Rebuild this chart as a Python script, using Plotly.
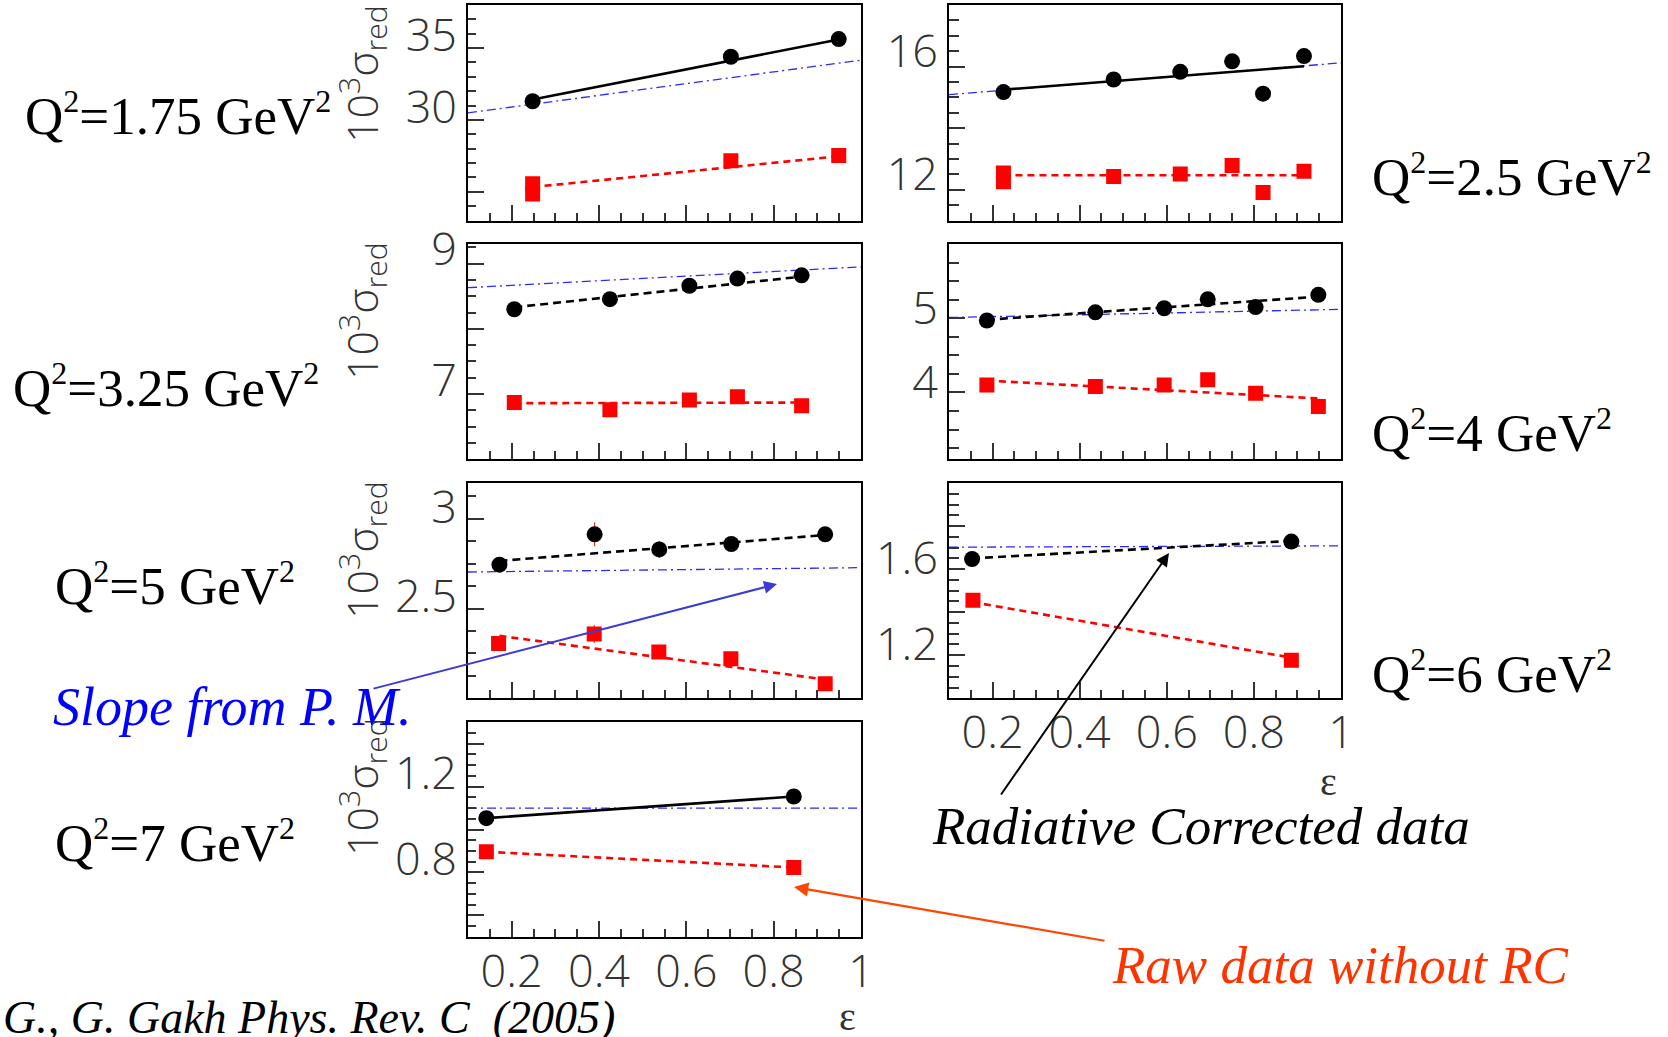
import plotly.graph_objects as go

W, H = 1668, 1037

# ---------------- data ----------------
q2_labels = ["1.75", "2.5", "3.25", "4", "5", "6", "7"]

# Q2 = 1.75
eps_rc_175 = [0.248, 0.702, 0.949]
rc_175 = [31.30, 34.40, 35.63]
eps_raw_175 = [0.248, 0.248, 0.702, 0.949]
raw_175 = [25.56, 24.84, 27.16, 27.53]
fit_eps_175 = [0.248, 0.949]
fit_rc_175 = [31.42, 35.60]
fit_raw_175 = [25.33, 27.47]
pm_175 = [30.49, 34.16]

# Q2 = 2.5
eps_rc_25 = [0.225, 0.478, 0.631, 0.750, 0.821, 0.915]
rc_25 = [15.17, 15.58, 15.83, 16.17, 15.12, 16.34]
eps_raw_25 = [0.225, 0.225, 0.478, 0.631, 0.750, 0.821, 0.915]
raw_25 = [12.54, 12.26, 12.43, 12.51, 12.79, 11.91, 12.60]
fit_eps_25 = [0.225, 0.915]
fit_rc_25 = [15.25, 16.01]
fit_raw_25 = [12.47, 12.47]
pm_25 = [15.09, 16.12]

# Q2 = 3.25
eps_rc_325 = [0.206, 0.425, 0.607, 0.717, 0.864]
rc_325 = [8.30, 8.455, 8.66, 8.77, 8.82]
eps_raw_325 = [0.206, 0.425, 0.607, 0.717, 0.864]
raw_325 = [6.87, 6.76, 6.91, 6.96, 6.82]
fit_eps_325 = [0.206, 0.864]
fit_rc_325 = [8.33, 8.80]
fit_raw_325 = [6.86, 6.87]
pm_325 = [8.63, 8.95]

# Q2 = 4
eps_rc_4 = [0.187, 0.436, 0.594, 0.694, 0.804, 0.948]
rc_4 = [4.97, 5.08, 5.135, 5.255, 5.15, 5.315]
eps_raw_4 = [0.187, 0.436, 0.594, 0.694, 0.804, 0.948]
raw_4 = [4.10, 4.08, 4.10, 4.17, 3.99, 3.81]
fit_eps_4 = [0.187, 0.948]
fit_rc_4 = [4.98, 5.29]
fit_raw_4 = [4.16, 3.92]
pm_4 = [5.01, 5.12]

# Q2 = 5
eps_rc_5 = [0.172, 0.390, 0.538, 0.703, 0.918]
rc_5 = [2.745, 2.914, 2.830, 2.860, 2.914]
rc_err_5 = [0.02, 0.066, 0.047, 0.02, 0.02]
eps_raw_5 = [0.170, 0.389, 0.537, 0.702, 0.918]
raw_5 = [2.305, 2.358, 2.258, 2.221, 2.081]
raw_err_5 = [0.02, 0.05, 0.02, 0.02, 0.02]
fit_eps_5 = [0.172, 0.918]
fit_rc_5 = [2.766, 2.910]
fit_raw_5 = [2.348, 2.105]
pm_5 = [2.704, 2.728]

# Q2 = 6
eps_rc_6 = [0.153, 0.886]
rc_6 = [1.647, 1.728]
eps_raw_6 = [0.155, 0.886]
raw_6 = [1.455, 1.177]
fit_eps_6 = [0.153, 0.886]
fit_rc_6 = [1.650, 1.731]
fit_raw_6 = [1.447, 1.189]
pm_6 = [1.702, 1.708]

# Q2 = 7
eps_rc_7 = [0.142, 0.846]
rc_7 = [1.053, 1.154]
eps_raw_7 = [0.142, 0.846]
raw_7 = [0.896, 0.823]
fit_eps_7 = [0.142, 0.846]
fit_rc_7 = [1.053, 1.154]
fit_raw_7 = [0.896, 0.823]
pm_7 = [1.10, 1.10]

pm_eps = [0.1, 1.0]

# y-axis ranges, major ticks and their labels
yrange = [[23, 38], [11, 18], [6.0, 9.3], [3.1, 6.0], [2.0, 3.2], [1.0, 2.0], [0.5, 1.5]]
ymajor = [[25, 30, 35], [12, 14, 16], [7, 8, 9], [4, 5], [2.5, 3.0],
          [1.2, 1.4, 1.6, 1.8], [0.6, 0.8, 1.0, 1.2, 1.4]]
ytext = [["", "30", "35"], ["12", "", "16"], ["7", "", "9"], ["4", "5"], ["2.5", "3"],
         ["1.2", "", "1.6", ""], ["", "0.8", "", "1.2", ""]]
yminor = [1, 0.5, 0.25, 0.25, 0.125, 0.05, 0.05]
xtickvals = [0.2, 0.4, 0.6, 0.8, 1.0]
xticktext = ["0.2", "0.4", "0.6", "0.8", "1"]

# ---------------- layout geometry ----------------
left_px = (468, 861)
right_px = (949, 1341)
rows_px = [(5, 220.5), (244, 459.3), (483, 698.3), (722.3, 936.7)]
cells = [(0, 0), (1, 0), (0, 1), (1, 1), (0, 2), (1, 2), (0, 3)]
label_shift = [-13, -15, -14, -10, -12, -11, -13]
rc_dash = ["solid", "solid", "8px,5px", "8px,5px", "8px,5px", "8px,5px", "solid"]

panels = [
    (eps_rc_175, rc_175, None, eps_raw_175, raw_175, None, fit_eps_175, fit_rc_175, fit_raw_175, pm_175),
    (eps_rc_25, rc_25, None, eps_raw_25, raw_25, None, fit_eps_25, fit_rc_25, fit_raw_25, pm_25),
    (eps_rc_325, rc_325, None, eps_raw_325, raw_325, None, fit_eps_325, fit_rc_325, fit_raw_325, pm_325),
    (eps_rc_4, rc_4, None, eps_raw_4, raw_4, None, fit_eps_4, fit_rc_4, fit_raw_4, pm_4),
    (eps_rc_5, rc_5, rc_err_5, eps_raw_5, raw_5, raw_err_5, fit_eps_5, fit_rc_5, fit_raw_5, pm_5),
    (eps_rc_6, rc_6, None, eps_raw_6, raw_6, None, fit_eps_6, fit_rc_6, fit_raw_6, pm_6),
    (eps_rc_7, rc_7, None, eps_raw_7, raw_7, None, fit_eps_7, fit_rc_7, fit_raw_7, pm_7),
]

fig = go.Figure()
tickfont = dict(family="Open Sans, Liberation Sans, sans-serif", size=45, color="#333333", weight=300)

for i, (erc, rc, rcerr, eraw, raw, rawerr, feps, frc, fraw, pm) in enumerate(panels):
    n = i + 1
    xa = "x" if n == 1 else f"x{n}"
    ya = "y" if n == 1 else f"y{n}"
    col, row = cells[i]
    xpx = left_px if col == 0 else right_px
    ytop, ybot = rows_px[row]

    # P.M. slope (blue dash-dot)
    fig.add_trace(go.Scatter(x=pm_eps, y=pm, mode="lines", xaxis=xa, yaxis=ya,
                             line=dict(color="#2a2aff", width=1.3, dash="9px,4px,2px,4px"),
                             showlegend=False, hoverinfo="skip"))
    # fit to raw data (red dashed)
    fig.add_trace(go.Scatter(x=feps, y=fraw, mode="lines", xaxis=xa, yaxis=ya,
                             line=dict(color="#ff0000", width=2.6, dash="7px,5px"),
                             showlegend=False, hoverinfo="skip"))
    # fit to RC data (black)
    fig.add_trace(go.Scatter(x=feps, y=frc, mode="lines", xaxis=xa, yaxis=ya,
                             line=dict(color="#000000", width=2.6, dash=rc_dash[i]),
                             showlegend=False, hoverinfo="skip"))
    # raw data (red squares)
    fig.add_trace(go.Scatter(x=eraw, y=raw, mode="markers", xaxis=xa, yaxis=ya,
                             marker=dict(symbol="square", size=15, color="#ff0000"),
                             error_y=(dict(type="data", array=rawerr, color="#ff0000", thickness=1, width=0)
                                      if rawerr else None),
                             showlegend=False, name="Raw data"))
    # radiatively corrected data (black circles)
    fig.add_trace(go.Scatter(x=erc, y=rc, mode="markers", xaxis=xa, yaxis=ya,
                             marker=dict(symbol="circle", size=16, color="#000000"),
                             error_y=(dict(type="data", array=rcerr, color="#ff0000", thickness=1, width=0)
                                      if rcerr else None),
                             showlegend=False, name="RC data"))

    show_x = n in (6, 7)
    xaxis = dict(domain=[xpx[0] / W, xpx[1] / W], range=[0.1, 1.0], anchor=ya, automargin=False,
                 showline=True, mirror=True, linecolor="#000000", linewidth=2,
                 showgrid=False, zeroline=False,
                 tickmode="array", tickvals=xtickvals, ticktext=xticktext,
                 ticks="inside", ticklen=16, tickwidth=1.5, tickcolor="#333333",
                 minor=dict(tickmode="linear", tick0=0, dtick=0.05, ticks="inside",
                            ticklen=8, tickwidth=1.5, tickcolor="#333333"),
                 showticklabels=show_x, tickfont=tickfont, ticklabelstandoff=-6)
    yaxis = dict(domain=[1 - ybot / H, 1 - ytop / H], range=yrange[i], anchor=xa, automargin=False,
                 showline=True, mirror=True, linecolor="#000000", linewidth=2,
                 showgrid=False, zeroline=False,
                 tickmode="array", tickvals=ymajor[i], ticktext=ytext[i],
                 ticks="inside", ticklen=16, tickwidth=1.5, tickcolor="#333333",
                 minor=dict(tickmode="linear", tick0=0, dtick=yminor[i], ticks="inside",
                            ticklen=8 if col == 0 else 10, tickwidth=1.5, tickcolor="#333333"),
                 showticklabels=True, tickfont=tickfont, ticklabelshift=label_shift[i])
    fig.layout["xaxis" if n == 1 else f"xaxis{n}"] = xaxis
    fig.layout["yaxis" if n == 1 else f"yaxis{n}"] = yaxis

annotations = []
serif = "Liberation Serif, Times New Roman, serif"

def px(x, y):
    return x / W, 1 - y / H

# Q^2 labels
q_pos = [(23, 114), (1370, 175), (11, 386), (1370, 431), (53, 584), (1370, 672), (53, 841)]
for lab, (x, y) in zip(q2_labels, q_pos):
    X, Y = px(x, y)
    annotations.append(dict(x=X, y=Y, xref="paper", yref="paper", xanchor="left", yanchor="middle",
                            text='Q<sup><span style="font-size:32px">2</span></sup>=' + lab
                                 + ' GeV<sup><span style="font-size:32px">2</span></sup>',
                            showarrow=False,
                            font=dict(family=serif, size=53, color="#000000")))

# y-axis titles for the left column
for yc in [74, 311, 550, 787]:
    X, Y = px(362, yc)
    annotations.append(dict(x=X, y=Y, xref="paper", yref="paper", xanchor="center", yanchor="middle",
                            text="10<sup>3</sup>σ<sub>red</sub>", textangle=-90, showarrow=False,
                            font=dict(family="Open Sans, Liberation Sans, sans-serif", size=43,
                                      color="#333333", weight=300)))

# epsilon axis titles
for (x, y) in [(848, 1016), (1328, 781)]:
    X, Y = px(x, y)
    annotations.append(dict(x=X, y=Y, xref="paper", yref="paper", xanchor="center", yanchor="middle",
                            text="ε", showarrow=False,
                            font=dict(family=serif, size=40, color="#333333")))

# descriptive texts
X, Y = px(51, 707)
annotations.append(dict(x=X, y=Y, xref="paper", yref="paper", xanchor="left", yanchor="middle",
                        text="<i>Slope from P. M.</i>", showarrow=False,
                        font=dict(family=serif, size=54, color="#0000ff")))
X, Y = px(930, 826)
annotations.append(dict(x=X, y=Y, xref="paper", yref="paper", xanchor="left", yanchor="middle",
                        text="<i>Radiative Corrected data</i>", showarrow=False,
                        font=dict(family=serif, size=53, color="#000000")))
X, Y = px(1110, 965)
annotations.append(dict(x=X, y=Y, xref="paper", yref="paper", xanchor="left", yanchor="middle",
                        text="<i>Raw data without RC</i>", showarrow=False,
                        font=dict(family=serif, size=53, color="#ff3300")))
X, Y = px(617, 1017)
annotations.append(dict(x=X, y=Y, xref="paper", yref="paper", xanchor="right", yanchor="middle",
                        text="<i>G., G. Gakh Phys. Rev. C&nbsp; (2005)</i>", showarrow=False,
                        font=dict(family=serif, size=46, color="#000000")))

# arrows (head at x,y ; tail offset in pixels)
def arrow(head, tail, color, width, style):
    X, Y = px(*head)
    return dict(x=X, y=Y, xref="paper", yref="paper", text="", showarrow=True,
                ax=tail[0] - head[0], ay=tail[1] - head[1],
                arrowcolor=color, arrowwidth=width, arrowhead=style, arrowsize=1.3)

annotations.append(arrow((777, 584), (372, 689), "#3b3bd6", 2, 2))
annotations.append(arrow((1169, 553), (1000, 796), "#000000", 2, 2))
annotations.append(arrow((794, 887), (1106, 941), "#ff4500", 2.2, 2))

fig.update_layout(width=W, height=H, margin=dict(l=0, r=0, t=0, b=0),
                  paper_bgcolor="white", plot_bgcolor="white",
                  showlegend=False, annotations=annotations)

fig.write_html("out.html", config={"displayModeBar": False},
               post_script="document.body.style.margin='0px';document.body.style.overflow='hidden';")
